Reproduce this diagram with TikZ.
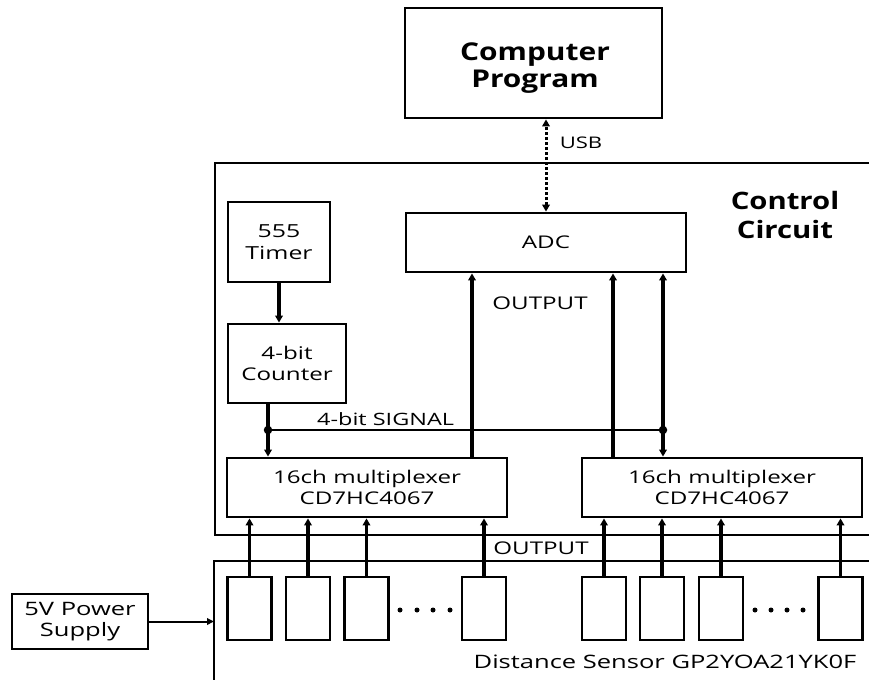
\documentclass[tikz,border=0pt]{standalone}
\usepackage{fontspec}
\setmainfont{Open Sans}[FakeStretch=1.38, BoldFeatures={FakeStretch=1.22}]
\usetikzlibrary{arrows.meta}

\begin{document}
\begin{tikzpicture}[x=1pt,y=-1pt,
  blk/.style={draw, line width=2.8pt, inner sep=0pt, align=center,
    font=\fontsize{17.5}{21.5}\selectfont},
  sensor/.style={draw, line width=2.8pt, minimum width=44pt, minimum height=63pt, inner sep=0pt},
  lbl/.style={inner sep=0pt, font=\fontsize{17.5}{21.5}\selectfont},
  tip/.tip={Triangle[length=7pt,width=7.5pt]},
  arr/.style={line width=3.2pt, -tip},
  bus/.style={line width=2pt},
  usb/.style={line width=3pt, dash pattern=on 3pt off 2pt, tip-tip},
  junction/.style={circle, fill, inner sep=0pt, minimum size=8.5pt},
]
\useasboundingbox (0,0) rectangle (869,680);

% enclosures of the control circuit and the sensor array
\draw[line width=2.5pt] (869,163) -- (215,163) -- (215,535) -- (869,535);
\draw[line width=2.6pt] (869,561) -- (214,561) -- (214,680);

% blocks
\node[blk, minimum width=257pt, minimum height=110pt] (comp) at (533.5,63) {};
\node[lbl, align=center, font=\bfseries\fontsize{24.5}{27}\selectfont]
  (comptxt) at (535,68) {Computer\\Program};
\node[blk, minimum width=280pt, minimum height=59pt] (adc) at (546,242.5) {ADC};
\node[blk, minimum width=102pt, minimum height=80pt,
  font=\fontsize{18}{21.5}\selectfont] (timer) at (279,242) {555\\Timer};
\node[blk, minimum width=118pt, minimum height=79pt] (counter) at (287,363.5) {4-bit\\Counter};
\node[blk, minimum width=280pt, minimum height=59pt] (mux1) at (367,487.5) {16ch multiplexer\\CD7HC4067};
\node[blk, minimum width=280pt, minimum height=59pt] (mux2) at (722,487.5) {16ch multiplexer\\CD7HC4067};
\node[blk, minimum width=136pt, minimum height=55pt,
  font=\fontsize{18.5}{21.5}\selectfont] (power) at (80,621.5) {5V Power\\Supply};

% sensors
\node[sensor] (s1) at (249.5,608.5) {};
\node[sensor] (s2) at (308,608.5) {};
\node[sensor] (s3) at (366.5,608.5) {};
\node[sensor] (s4) at (484,608.5) {};
\node[sensor] (s5) at (604,608.5) {};
\node[sensor] (s6) at (662,608.5) {};
\node[sensor] (s7) at (721,608.5) {};
\node[sensor] (s8) at (840.5,608.5) {};
\foreach \x in {400,417,433,450,755,771,787,803}
  \fill (\x,610) circle (2.5pt);

% labels
\node[lbl, font=\fontsize{16}{20}\selectfont] (usblbl) at (581,143) {USB};
\node[lbl, font=\bfseries\fontsize{24}{29}\selectfont, align=center] (ctrl) at (785,215) {Control\\Circuit};
\node[lbl] (out1) at (540,303) {OUTPUT};
\node[lbl] (out2) at (541,548) {OUTPUT};
\node[lbl, anchor=base west, font=\fontsize{17}{20}\selectfont] (sig) at (317,425) {4-bit SIGNAL};
\node[lbl, anchor=base, font=\fontsize{18.5}{22}\selectfont] (dist) at (665,668) {Distance Sensor GP2YOA21YK0F};

% helper coordinates
\coordinate (j1) at (268,430);
\coordinate (j2) at (663,430);
\coordinate (o1) at (472,0);
\coordinate (o2) at (613,0);
\coordinate (pin) at (214,621.5);

% connectors
\draw[usb] (adc.north) -- (adc.north |- comp.south);
\draw[arr] (timer.south) -- (timer.south |- counter.north);
\draw[line width=3.2pt] (counter.south -| j1) -- (j1);
\draw[bus] (j1) -- (j2);
\draw[arr] (j1) -- (j1 |- mux1.north);
\draw[arr] (j2) -- (j2 |- mux2.north);
\draw[arr] (j2) -- (j2 |- adc.south);
\draw[arr] (o1 |- mux1.north) -- (o1 |- adc.south);
\draw[arr] (o2 |- mux2.north) -- (o2 |- adc.south);
\node[junction] (dot1) at (j1) {};
\node[junction] (dot2) at (j2) {};

\foreach \s/\m in {s1/mux1,s2/mux1,s3/mux1,s4/mux1,s5/mux2,s6/mux2,s7/mux2,s8/mux2}
  \draw[arr] (\s.north) -- (\s.north |- \m.south);

\draw[line width=2pt, -{Triangle[length=7pt,width=6.5pt]}] (power.east) -- (pin);
\end{tikzpicture}
\end{document}
